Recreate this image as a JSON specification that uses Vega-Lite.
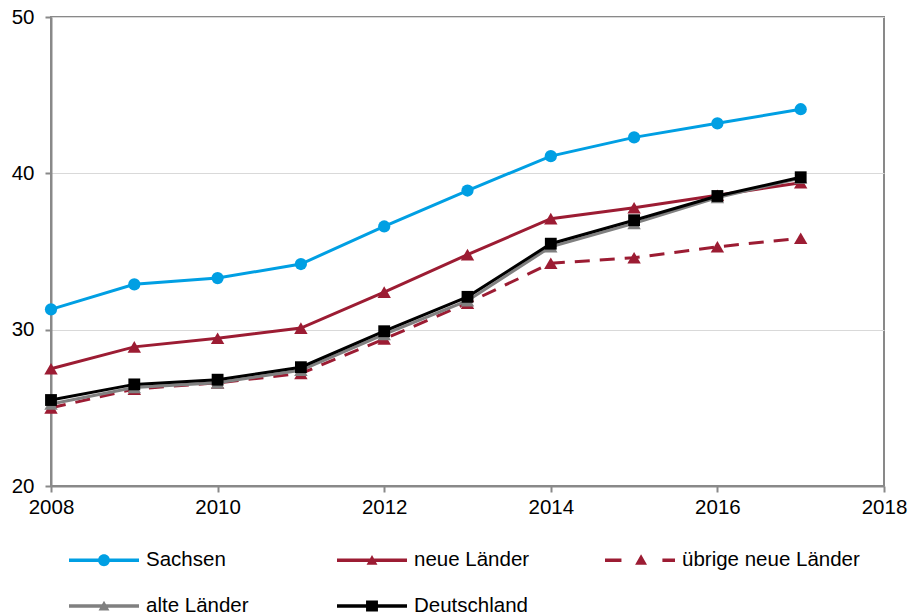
{
  "$schema": "https://vega.github.io/schema/vega-lite/v6.json",
  "width": 833,
  "height": 469,
  "autosize": {"type": "none"},
  "padding": {"left": 51, "top": 17, "right": 25, "bottom": 129},
  "background": "white",
  "config": {
    "font": "Liberation Sans",
    "view": {"stroke": "#898989", "strokeWidth": 2},
    "axis": {
      "labelFont": "Liberation Sans",
      "labelFontSize": 20.5,
      "labelColor": "#000000",
      "domainColor": "#898989",
      "domainWidth": 2,
      "tickColor": "#898989",
      "tickWidth": 2,
      "tickSize": 6,
      "title": null
    },
    "legend": {
      "labelFont": "Liberation Sans",
      "labelFontSize": 20.5,
      "labelColor": "#000000",
      "labelLimit": 400,
      "padding": 0
    }
  },
  "data": {
    "values": [
      {"year": 2008, "series": "Sachsen", "value": 31.3},
      {"year": 2009, "series": "Sachsen", "value": 32.9},
      {"year": 2010, "series": "Sachsen", "value": 33.3},
      {"year": 2011, "series": "Sachsen", "value": 34.2},
      {"year": 2012, "series": "Sachsen", "value": 36.6},
      {"year": 2013, "series": "Sachsen", "value": 38.9},
      {"year": 2014, "series": "Sachsen", "value": 41.1},
      {"year": 2015, "series": "Sachsen", "value": 42.3},
      {"year": 2016, "series": "Sachsen", "value": 43.2},
      {"year": 2017, "series": "Sachsen", "value": 44.1},
      {"year": 2008, "series": "neue Länder", "value": 27.5},
      {"year": 2009, "series": "neue Länder", "value": 28.9},
      {"year": 2010, "series": "neue Länder", "value": 29.45},
      {"year": 2011, "series": "neue Länder", "value": 30.1},
      {"year": 2012, "series": "neue Länder", "value": 32.4},
      {"year": 2013, "series": "neue Länder", "value": 34.8},
      {"year": 2014, "series": "neue Länder", "value": 37.1},
      {"year": 2015, "series": "neue Länder", "value": 37.8},
      {"year": 2016, "series": "neue Länder", "value": 38.6},
      {"year": 2017, "series": "neue Länder", "value": 39.4},
      {"year": 2008, "series": "übrige neue Länder", "value": 25.0},
      {"year": 2009, "series": "übrige neue Länder", "value": 26.2},
      {"year": 2010, "series": "übrige neue Länder", "value": 26.6},
      {"year": 2011, "series": "übrige neue Länder", "value": 27.2},
      {"year": 2012, "series": "übrige neue Länder", "value": 29.4},
      {"year": 2013, "series": "übrige neue Länder", "value": 31.7},
      {"year": 2014, "series": "übrige neue Länder", "value": 34.25},
      {"year": 2015, "series": "übrige neue Länder", "value": 34.6},
      {"year": 2016, "series": "übrige neue Länder", "value": 35.3},
      {"year": 2017, "series": "übrige neue Länder", "value": 35.85},
      {"year": 2008, "series": "alte Länder", "value": 25.25},
      {"year": 2009, "series": "alte Länder", "value": 26.3},
      {"year": 2010, "series": "alte Länder", "value": 26.6},
      {"year": 2011, "series": "alte Länder", "value": 27.4},
      {"year": 2012, "series": "alte Länder", "value": 29.7},
      {"year": 2013, "series": "alte Länder", "value": 31.85},
      {"year": 2014, "series": "alte Länder", "value": 35.3},
      {"year": 2015, "series": "alte Länder", "value": 36.8},
      {"year": 2016, "series": "alte Länder", "value": 38.45},
      {"year": 2017, "series": "alte Länder", "value": 39.7},
      {"year": 2008, "series": "Deutschland", "value": 25.5},
      {"year": 2009, "series": "Deutschland", "value": 26.5},
      {"year": 2010, "series": "Deutschland", "value": 26.8},
      {"year": 2011, "series": "Deutschland", "value": 27.6},
      {"year": 2012, "series": "Deutschland", "value": 29.9},
      {"year": 2013, "series": "Deutschland", "value": 32.1},
      {"year": 2014, "series": "Deutschland", "value": 35.5},
      {"year": 2015, "series": "Deutschland", "value": 37.0},
      {"year": 2016, "series": "Deutschland", "value": 38.55},
      {"year": 2017, "series": "Deutschland", "value": 39.75}
    ]
  },
  "encoding": {
    "x": {
      "field": "year",
      "type": "quantitative",
      "scale": {"domain": [2008, 2018], "nice": false, "zero": false},
      "axis": {"values": [2008, 2010, 2012, 2014, 2016, 2018], "format": "d", "grid": false, "labelPadding": 5, "labelFlush": false}
    },
    "y": {
      "field": "value",
      "type": "quantitative",
      "scale": {"domain": [20, 50], "nice": false, "zero": false},
      "axis": {"values": [20, 30, 40, 50], "grid": true, "gridColor": "#d9d9d9", "gridWidth": 1, "labelPadding": 11}
    },
    "color": {
      "field": "series",
      "type": "nominal",
      "scale": {
        "domain": ["Sachsen", "neue Länder", "übrige neue Länder", "alte Länder", "Deutschland"],
        "range": ["#009FE3", "#9C1C33", "#9C1C33", "#808080", "#000000"]
      },
      "legend": {
        "title": null,
        "orient": "none",
        "legendX": 18,
        "legendY": 508,
        "direction": "horizontal",
        "columns": 3,
        "gridAlign": "all",
        "columnPadding": 13,
        "rowPadding": -33,
        "symbolSize": 4900,
        "symbolStrokeWidth": 0,
        "labelOffset": 7,
        "encode": {
          "symbols": {
            "update": {
              "shape": {"signal": "datum.value === 'Sachsen' ? 'M-1,-0.05H1V0.05H-1Z M-0.17,0A0.17,0.17 0 1,1 0.17,0A0.17,0.17 0 1,1 -0.17,0Z' : datum.value === 'Deutschland' ? 'M-1,-0.05H1V0.05H-1Z M-0.17,-0.16H0.17V0.16H-0.17Z' : datum.value === 'übrige neue Länder' ? 'M-1,-0.05H-0.53V0.05H-1Z M0.64,-0.05H1V0.05H0.64Z M0.03,-0.17L0.2,0.13L-0.14,0.13Z' : 'M-1,-0.05H1V0.05H-1Z M0,-0.15L0.155,0.13L-0.155,0.13Z'"},
              "fill": {"scale": "color", "field": "value"},
              "stroke": {"value": "transparent"},
              "strokeWidth": {"value": 0},
              "strokeDash": {"value": []},
              "opacity": {"value": 1},
              "fillOpacity": {"value": 1}
            }
          }
        }
      }
    }
  },
  "layer": [
    {
      "transform": [{"filter": "datum.series === 'Sachsen'"}],
      "mark": {"type": "line", "strokeWidth": 3, "point": {"shape": "circle", "filled": true, "size": 150, "opacity": 1}}
    },
    {
      "transform": [{"filter": "datum.series === 'neue Länder'"}],
      "mark": {"type": "line", "strokeWidth": 3, "point": {"shape": "triangle-up", "filled": true, "size": 180, "opacity": 1}}
    },
    {
      "transform": [{"filter": "datum.series === 'übrige neue Länder'"}],
      "mark": {"type": "line", "strokeWidth": 3, "strokeDash": [15, 10], "point": {"shape": "triangle-up", "filled": true, "size": 180, "opacity": 1}}
    },
    {
      "transform": [{"filter": "datum.series === 'alte Länder'"}],
      "mark": {"type": "line", "strokeWidth": 3, "point": {"shape": "triangle-up", "filled": true, "size": 180, "opacity": 1}}
    },
    {
      "transform": [{"filter": "datum.series === 'Deutschland'"}],
      "mark": {"type": "line", "strokeWidth": 3, "point": {"shape": "square", "filled": true, "size": 140, "opacity": 1}}
    }
  ]
}
